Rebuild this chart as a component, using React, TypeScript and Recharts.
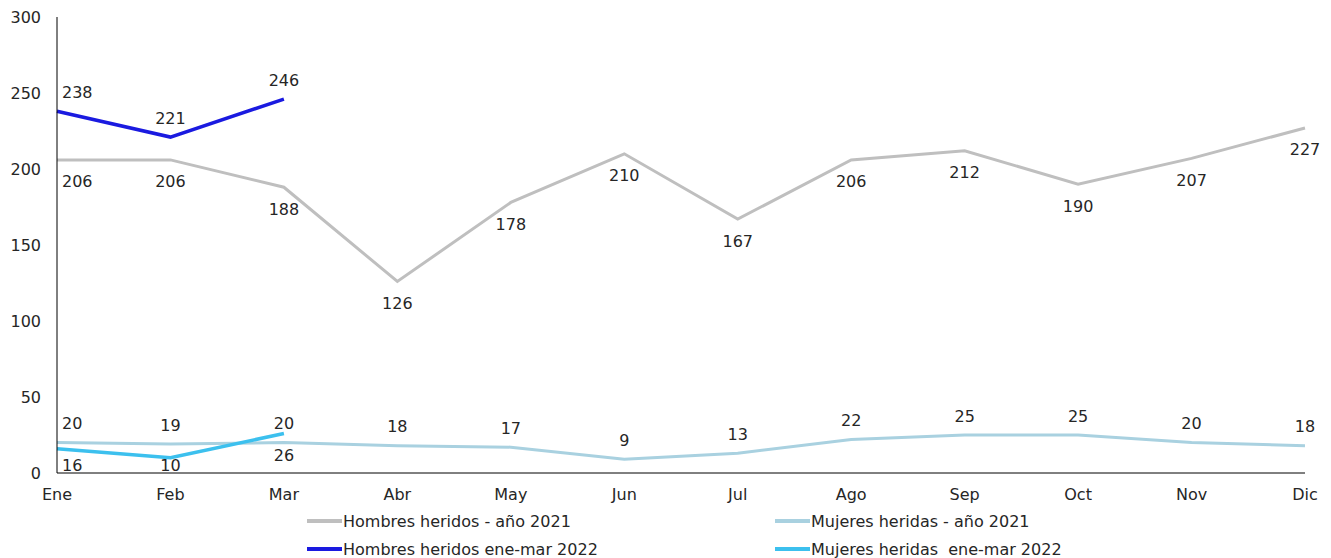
import React from "react";
import { LineChart, Line, XAxis, YAxis, Legend, LabelList } from "recharts";

const months = ["Ene", "Feb", "Mar", "Abr", "May", "Jun", "Jul", "Ago", "Sep", "Oct", "Nov", "Dic"];
const hombres2021 = [206, 206, 188, 126, 178, 210, 167, 206, 212, 190, 207, 227];
const mujeres2021 = [20, 19, 20, 18, 17, 9, 13, 22, 25, 25, 20, 18];
const hombres2022 = [238, 221, 246];
const mujeres2022 = [16, 10, 26];
const yTicks = [0, 50, 100, 150, 200, 250, 300];

const data = months.map((m, i) => ({
  mes: m,
  h21: hombres2021[i],
  m21: mujeres2021[i],
  h22: i < hombres2022.length ? hombres2022[i] : null,
  m22: i < mujeres2022.length ? mujeres2022[i] : null,
}));

const series = [
  { key: "h21", name: "Hombres heridos - año 2021", color: "#bfbfbf", pos: "below" },
  { key: "m21", name: "Mujeres heridas - año 2021", color: "#a9d1e0", pos: "above" },
  { key: "h22", name: "Hombres heridos ene-mar 2022", color: "#1a1ae0", pos: "above" },
  { key: "m22", name: "Mujeres heridas  ene-mar 2022", color: "#3cc0ee", pos: "below" },
];

const FONT = "'DejaVu Sans', sans-serif";
const PLOT_BOTTOM = 473;

const makeLabel = (pos: string) => (props: any) => {
  const { x, y, value, index } = props;
  if (value == null) return null;
  let ty = pos === "below" ? y + 22 : y - 19;
  if (ty > PLOT_BOTTOM - 8) ty = PLOT_BOTTOM - 8;
  const first = index === 0;
  return (
    <text
      x={first ? x + 5 : x}
      y={ty}
      textAnchor={first ? "start" : "middle"}
      dominantBaseline="central"
      fontSize={16}
      fontFamily={FONT}
      fill="#262626"
    >
      {value}
    </text>
  );
};

const renderLegend = () => {
  const cols = [307, 775];
  const rows = [18, 46];
  return (
    <div style={{ position: "relative", width: 1331, height: 55 }}>
      {series.map((s, i) => (
        <div
          key={s.key}
          style={{
            position: "absolute",
            left: cols[i % 2],
            top: rows[Math.floor(i / 2)] - 10,
            display: "flex",
            alignItems: "center",
            height: 20,
            fontFamily: FONT,
            fontSize: 16,
            color: "#262626",
            whiteSpace: "pre",
          }}
        >
          <span style={{ display: "inline-block", width: 35, height: 4, background: s.color, marginRight: 1 }} />
          <span>{s.name}</span>
        </div>
      ))}
    </div>
  );
};

export default function App() {
  return (
    <div style={{ position: "absolute", left: 0, top: 0, width: 1331, height: 558, background: "#fff" }}>
      <LineChart width={1331} height={558} data={data} margin={{ top: 17, right: 26, bottom: 0, left: 0 }}>
        <XAxis
          dataKey="mes"
          axisLine={{ stroke: "#000", strokeWidth: 1 }}
          tickLine={false}
          tickSize={0}
          tickMargin={16}
          height={30}
          interval={0}
          padding={{ left: 0, right: 0 }}
          tick={{ fill: "#262626", fontSize: 16, fontFamily: FONT }}
        />
        <YAxis
          domain={[0, 300]}
          ticks={yTicks}
          axisLine={{ stroke: "#000", strokeWidth: 1 }}
          tickLine={false}
          tickSize={0}
          tickMargin={16}
          width={57}
          tick={{ fill: "#262626", fontSize: 16, fontFamily: FONT }}
        />
        <Legend verticalAlign="bottom" content={renderLegend} wrapperStyle={{ left: 0, width: 1331, bottom: 0, height: 55 }} />
        {series.map((s) => (
          <Line
            key={s.key}
            dataKey={s.key}
            name={s.name}
            type="linear"
            stroke={s.color}
            strokeWidth={s.key === "h22" || s.key === "m22" ? 3.5 : 3}
            dot={false}
            activeDot={false}
            connectNulls={false}
            isAnimationActive={false}
          >
            <LabelList dataKey={s.key} content={makeLabel(s.pos)} />
          </Line>
        ))}
      </LineChart>
    </div>
  );
}
